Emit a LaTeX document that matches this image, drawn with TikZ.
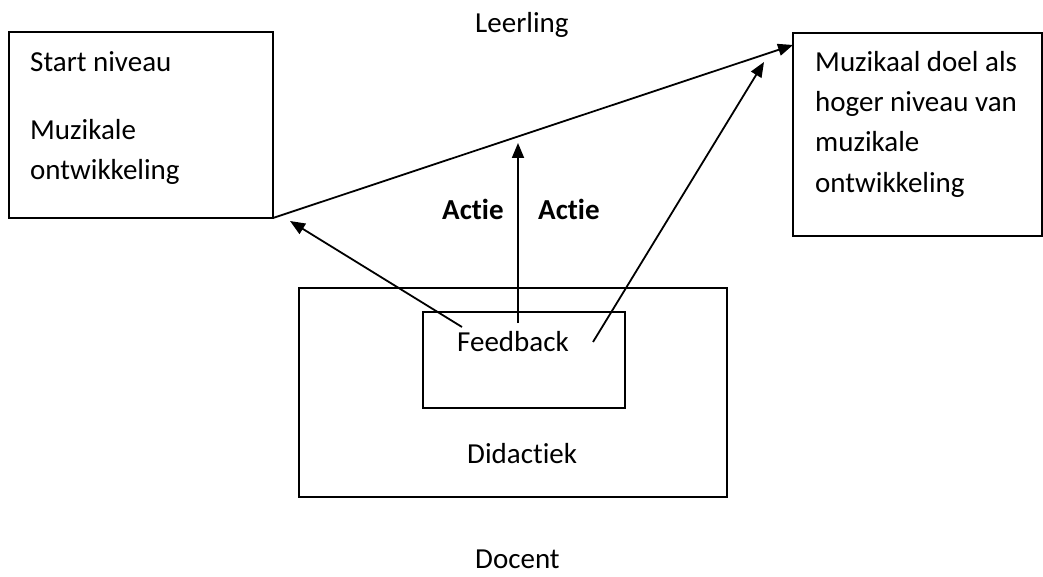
\documentclass[tikz,border=0pt]{standalone}
\usepackage{fontspec}
\setmainfont{Carlito}[Ligatures=NoCommon]
\usetikzlibrary{arrows.meta}
\begin{document}
\begin{tikzpicture}[x=1pt,y=-1pt,
  box/.style={draw, line width=1.8pt, inner sep=0pt, outer sep=0pt, anchor=north west},
  txt/.style={inner sep=0pt, anchor=base west, font=\fontsize{29}{40}\selectfont},
  btxt/.style={txt, font=\fontsize{29}{40}\selectfont\bfseries},
  arr/.style={-{Triangle[length=15pt,width=12pt]}, line width=1.8pt}]
\useasboundingbox (0,0) rectangle (1043,577);
% boxes
\node[box, minimum width=264pt, minimum height=186pt] (lbox) at (9,32) {};
\node[box, minimum width=249pt, minimum height=203pt] (rbox) at (793,33) {};
\node[box, minimum width=428pt, minimum height=209pt] (outer) at (299,288) {};
\node[box, minimum width=202pt, minimum height=96pt] (inner) at (423,312) {};
% texts
\node[txt] (t1) at (30,72) {Start niveau};
\node[txt] (t2) at (30,140) {Muzikale};
\node[txt] (t3) at (30,180) {ontwikkeling};
\node[txt] (r1) at (815,72) {Muzikaal doel als};
\node[txt] (r2) at (815,112) {hoger niveau van};
\node[txt] (r3) at (815,152) {muzikale};
\node[txt] (r4) at (815,193) {ontwikkeling};
\node[txt] (fb) at (457,351) {Feedback};
\node[txt] (did) at (467,463) {Didactiek};
\node[txt] (leer) at (475,33) {Leerling};
\node[txt] (doc) at (475,568) {Docent};
\node[btxt] (a1) at (442,220) {Actie};
\node[btxt] (a2) at (538,220) {Actie};
% connector ends
\coordinate (mtip) at (793,45);
\coordinate (vstart) at (518,323);
\coordinate (vtip) at (518,143);
\coordinate (lstart) at (462,327);
\coordinate (ltip) at (290,221);
\coordinate (rstart) at (593,342);
\coordinate (rtip) at (764,62);
% arrows
\draw[arr] (lbox.south east) -- (mtip);
\draw[arr] (vstart) -- (vtip);
\draw[arr] (lstart) -- (ltip);
\draw[arr] (rstart) -- (rtip);
\end{tikzpicture}
\end{document}
